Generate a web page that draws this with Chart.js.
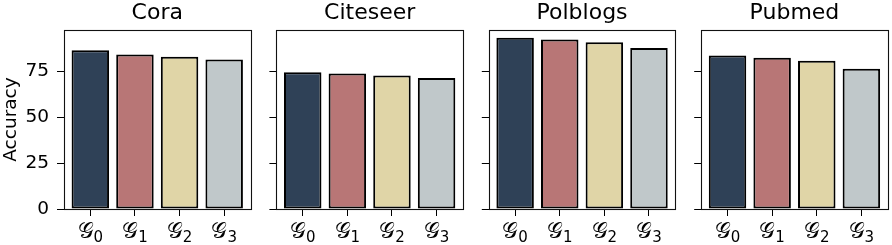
<!DOCTYPE html>
<html><head><meta charset="utf-8">
<script src="https://cdn.jsdelivr.net/npm/chart.js@4.4.1/dist/chart.umd.min.js"></script>
<style>
html,body{margin:0;padding:0;background:#fff;}
#wrap{position:relative;width:892px;height:245px;background:#fff;}
canvas{position:absolute;left:0;top:0;}
</style></head><body>
<div id="wrap">
<canvas id="c0" width="892" height="245"></canvas>
<canvas id="c1" width="892" height="245"></canvas>
<canvas id="c2" width="892" height="245"></canvas>
<canvas id="c3" width="892" height="245"></canvas>
</div>
<script>
// ---- data ----
const panelTitles = ["Cora", "Citeseer", "Polblogs", "Pubmed"];
const categories = ["𝒢0", "𝒢1", "𝒢2", "𝒢3"];   // 𝒢 with subscript index
const cora = [86.3, 84.0, 82.8, 81.3];
const citeseer = [74.3, 73.6, 72.5, 71.2];
const polblogs = [93.1, 92.2, 90.6, 87.5];
const pubmed = [83.5, 82.2, 80.6, 76.3];
const yTicks = [0, 25, 50, 75];
const yLabel = "Accuracy";
const yMax = 97.3;

// ---- style ----
const colors = ['#2f4157', '#b87676', '#e0d5a7', '#c0c8ca'];
const FAMILY = "'DejaVu Sans', sans-serif";
const panelLeft = [64, 276.4, 488.8, 701.2];
const panelWidth = 186.5;
const W = 892, H = 245;
const seriesList = [cora, citeseer, polblogs, pubmed];

const frame = {
  id: 'frame',
  afterDraw(chart) {
    const a = chart.chartArea, ctx = chart.ctx;
    ctx.save();
    ctx.strokeStyle = '#111';
    ctx.lineWidth = 1.1;
    ctx.strokeRect(Math.round(a.left) + 0.5, Math.round(a.top) + 0.5,
      Math.round(a.right) - Math.round(a.left), Math.round(a.bottom) - Math.round(a.top));
    ctx.restore();
  }
};

// draws x tick labels as base glyph + subscript index (like mathtext)
const subLabels = {
  id: 'subLabels',
  afterDraw(chart) {
    const sc = chart.scales.x, ctx = chart.ctx;
    ctx.save();
    ctx.fillStyle = '#000';
    ctx.textBaseline = 'alphabetic';
    ctx.textAlign = 'left';
    sc.ticks.forEach(t => {
      const lab = Array.from(categories[t.value]);
      const base = lab.slice(0, -1).join(''), sub = lab[lab.length - 1];
      const px = sc.getPixelForValue(t.value);
      const bf = "22px " + FAMILY, sf = "15px " + FAMILY;
      ctx.font = bf;
      const wb = ctx.measureText(base).width;
      ctx.font = sf;
      const ws = ctx.measureText(sub).width;
      const x0 = px - (wb + ws) / 2;
      ctx.font = bf;
      ctx.fillText(base, x0, sc.top + 28.5);
      ctx.font = sf;
      ctx.fillText(sub, x0 + wb, sc.top + 32.5);
    });
    ctx.restore();
  }
};

seriesList.forEach((vals, i) => {
  const yW = i === 0 ? 64 : 8;
  new Chart(document.getElementById('c' + i), {
    type: 'bar',
    data: {
      datasets: [{
        data: vals.map((v, j) => ({ x: j, y: v })),
        backgroundColor: colors,
        borderColor: '#000',
        borderWidth: 2,
        borderSkipped: false,
        barPercentage: 1,
        categoryPercentage: 0.84
      }]
    },
    options: {
      responsive: false,
      animation: false,
      devicePixelRatio: 1,
      layout: { padding: { left: panelLeft[i] - yW, right: W - (panelLeft[i] + panelWidth), top: 0, bottom: 0 } },
      plugins: {
        legend: { display: false },
        tooltip: { enabled: false },
        title: {
          display: true, text: panelTitles[i], fullSize: false, color: '#000',
          font: { family: FAMILY, size: 22, weight: 'normal' },
          padding: { top: 0, bottom: 3.6 }
        }
      },
      scales: {
        x: {
          type: 'linear', min: -0.59, max: 3.59, offset: false,
          afterBuildTicks: s => { s.ticks = categories.map((c, k) => ({ value: k })); },
          afterFit: s => { s.height = 36; },
          ticks: {
            display: false,
            callback: v => categories[v], autoSkip: false, maxRotation: 0
          },
          grid: { offset: false, drawOnChartArea: false, drawTicks: true, tickLength: 7, color: '#000', tickWidth: 1 },
          border: { display: false }
        },
        y: {
          min: 0, max: yMax,
          afterBuildTicks: s => { s.ticks = yTicks.map(v => ({ value: v })); },
          afterFit: s => { s.width = yW; },
          ticks: {
            callback: v => (i === 0 ? String(v) : ''), color: '#000', padding: 8,
            font: { family: FAMILY, size: 18.5 }
          },
          grid: { offset: false, drawOnChartArea: false, drawTicks: true, tickLength: 7, color: '#000', tickWidth: 1 },
          border: { display: false },
          title: {
            display: i === 0, text: yLabel, color: '#000',
            font: { family: FAMILY, size: 18.5 }, padding: { top: 0, bottom: 0 }
          }
        }
      }
    },
    plugins: [frame, subLabels]
  });
});
</script>
</body></html>
